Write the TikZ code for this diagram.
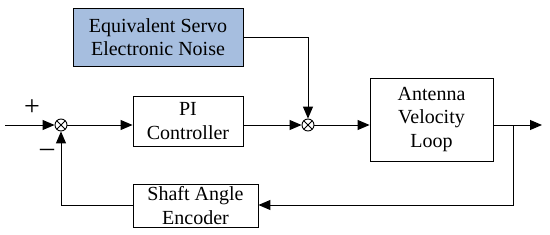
\documentclass[tikz,border=0pt]{standalone}
\usepackage{fontspec}
\setmainfont{Liberation Serif}
\usetikzlibrary{arrows.meta}
\begin{document}
\begin{tikzpicture}[x=1pt,y=-1pt,
  blk/.style={draw,line width=0.9pt,align=center,inner sep=0pt,font=\rmfamily\fontsize{20}{23.5}\selectfont},
  sumj/.style={draw,circle,line width=0.9pt,minimum size=12pt,inner sep=0pt,
    path picture={\draw[line width=0.8pt] (path picture bounding box.north west)--(path picture bounding box.south east)
      (path picture bounding box.north east)--(path picture bounding box.south west);}},
  sign/.style={font=\rmfamily\fontsize{28}{28}\selectfont,inner sep=0pt},
  conn/.style={line width=1pt},
  arr/.style={conn,-{Triangle[length=12pt,width=10pt]}}]
\useasboundingbox (0,0) rectangle (550,234);
\node[blk,fill={rgb,255:red,166;green,190;blue,223},minimum width=170pt,minimum height=58pt] (noise) at (158,37) {Equivalent Servo\\Electronic Noise};
\node[blk,minimum width=110pt,minimum height=50pt] (pi) at (188,121) {PI\\Controller};
\node[blk,minimum width=123pt,minimum height=83pt] (ant) at (431.5,119.5) {Antenna\\Velocity\\Loop};
\node[blk,minimum width=125pt,minimum height=43pt] (enc) at (195.5,205.5) {Shaft Angle\\Encoder};
\node[sumj] (s1) at (61,125) {};
\node[sumj] (s2) at (308,125) {};
\coordinate (in) at (5,125);
\coordinate (out) at (542,125);
\coordinate (br) at (513,125);
\coordinate (low) at (513,205);
\node[sign] (plus) at (32,108) {+};
\node[sign] (minus) at (47,153) {\textendash};
\draw[arr] (in) -- (s1.west);
\draw[arr] (s1.east) -- (s1 -| pi.west);
\draw[arr] (s2 -| pi.east) -- (s2.west);
\draw[arr] (s2.east) -- (s2 -| ant.west);
\draw[arr] (br -| ant.east) -- (out);
\draw[arr] (br) -- (low) -- (low -| enc.east);
\draw[arr] (enc.west) -| (s1.south);
\draw[arr] (noise.east |- 0,37) -| (s2.north);
\end{tikzpicture}
\end{document}
